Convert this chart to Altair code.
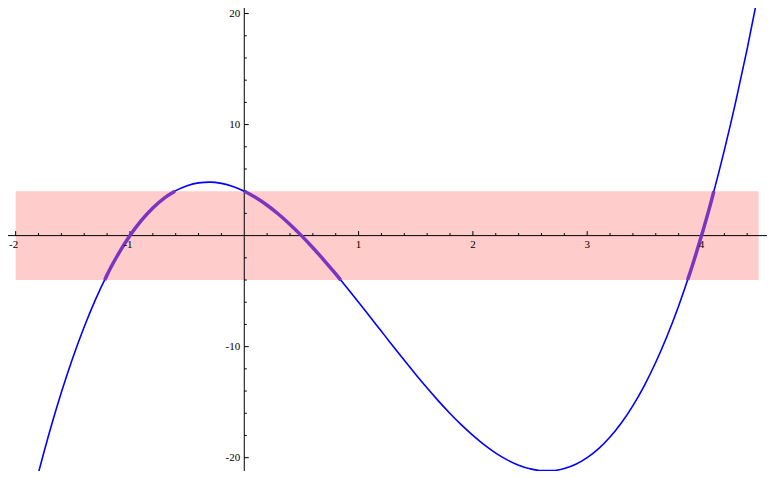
import altair as alt
import pandas as pd

# Curve samples
curve_x = [-1.9, -1.8, -1.7, -1.6, -1.5, -1.4, -1.3, -1.2, -1.1, -1.0, -0.9, -0.8, -0.7, -0.6,
           -0.5, -0.4, -0.3, -0.2, -0.1, 0.0, 0.1, 0.2, 0.3, 0.4, 0.5, 0.6, 0.7, 0.8, 0.9, 1.0,
           1.1, 1.2, 1.3, 1.4, 1.5, 1.6, 1.7, 1.8, 1.9, 2.0, 2.1, 2.2, 2.3, 2.4, 2.5, 2.6, 2.7,
           2.8, 2.9, 3.0, 3.1, 3.2, 3.3, 3.4, 3.5, 3.6, 3.7, 3.8, 3.9, 4.0, 4.1, 4.2, 4.3, 4.4,
           4.5, 4.6]
curve_y = [-25.488, -21.344, -17.556, -14.112, -11.0, -8.208, -5.724, -3.536, -1.632, 0.0,
           1.372, 2.496, 3.384, 4.048, 4.5, 4.752, 4.816, 4.704, 4.428, 4.0, 3.432, 2.736,
           1.924, 1.008, 0.0, -1.088, -2.244, -3.456, -4.712, -6.0, -7.308, -8.624, -9.936,
           -11.232, -12.5, -13.728, -14.904, -16.016, -17.052, -18.0, -18.848, -19.584,
           -20.196, -20.672, -21.0, -21.168, -21.164, -20.976, -20.592, -20.0, -19.188,
           -18.144, -16.856, -15.312, -13.5, -11.408, -9.024, -6.336, -3.332, 0.0, 3.672,
           7.696, 12.084, 16.848, 22.0, 27.552]

# Highlighted (purple) pieces inside the band
hl_x = [-1.221, -1.2, -1.1, -1.0, -0.9, -0.8, -0.7, -0.607,
        0.0, 0.1, 0.2, 0.3, 0.4, 0.5, 0.6, 0.7, 0.8, 0.843,
        3.878, 3.9, 4.0, 4.1, 4.108]
hl_y = [-4.0, -3.536, -1.632, 0.0, 1.372, 2.496, 3.384, 4.0,
        4.0, 3.432, 2.736, 1.924, 1.008, 0.0, -1.088, -2.244, -3.456, -4.0,
        -4.0, -3.332, 0.0, 3.672, 4.0]
hl_seg = ["a"] * 8 + ["b"] * 10 + ["c"] * 5

# Band
band_x = [-2.0]
band_x2 = [4.5]
band_y = [-4.0]
band_y2 = [4.0]

# Axis ticks and labels
x_major = [-2, -1, 1, 2, 3, 4]
x_minor = [-1.8, -1.6, -1.4, -1.2, -0.8, -0.6, -0.4, -0.2, 0.2, 0.4, 0.6, 0.8, 1.2, 1.4,
           1.6, 1.8, 2.2, 2.4, 2.6, 2.8, 3.2, 3.4, 3.6, 3.8, 4.2, 4.4]
y_major = [-20, -10, 10, 20]
y_minor = [-18, -16, -14, -12, -8, -6, -4, -2, 2, 4, 6, 8, 12, 14, 16, 18]
x_labels = ["-2", "-1", "1", "2", "3", "4"]
y_labels = ["-20", "-10", "10", "20"]

XDOM = [-2.067, 4.573]
YDOM = [-21.2, 20.5]

xs = alt.Scale(domain=XDOM, nice=False, zero=False)
ys = alt.Scale(domain=YDOM, nice=False, zero=False)

curve_df = pd.DataFrame({"x": curve_x, "y": curve_y})
hl_df = pd.DataFrame({"x": hl_x, "y": hl_y, "seg": hl_seg})
band_df = pd.DataFrame({"x": band_x, "x2": band_x2, "y": band_y, "y2": band_y2})
xaxis_df = pd.DataFrame({"x": [XDOM[0]], "x2": [XDOM[1]], "y": [0.0]})
yaxis_df = pd.DataFrame({"y": [YDOM[0]], "y2": [YDOM[1]], "x": [0.0]})
xmaj_df = pd.DataFrame({"x": x_major, "y": [0.0] * len(x_major), "lab": x_labels,
                        "neg": [v < 0 for v in x_major]})
xmin_df = pd.DataFrame({"x": x_minor, "y": [0.0] * len(x_minor)})
ymaj_df = pd.DataFrame({"y": y_major, "x": [0.0] * len(y_major), "lab": y_labels})
ymin_df = pd.DataFrame({"y": y_minor, "x": [0.0] * len(y_minor)})

X = lambda f="x": alt.X(f"{f}:Q", scale=xs, axis=None)
Y = lambda f="y": alt.Y(f"{f}:Q", scale=ys, axis=None)

band = alt.Chart(band_df).mark_rect(color="#ffcccc", opacity=1).encode(
    x=X(), x2="x2", y=Y(), y2="y2")

xaxis = alt.Chart(xaxis_df).mark_rule(color="black", strokeWidth=1).encode(
    x=X(), x2="x2", y=Y())
yaxis = alt.Chart(yaxis_df).mark_rule(color="black", strokeWidth=1).encode(
    y=Y(), y2="y2", x=X())

xmaj = alt.Chart(xmaj_df).mark_rule(color="black", yOffset=-4.5, y2Offset=0).encode(
    x=X(), y=Y(), y2="y")
xmin = alt.Chart(xmin_df).mark_rule(color="black", yOffset=-2.5, y2Offset=0).encode(
    x=X(), y=Y(), y2="y")
ymaj = alt.Chart(ymaj_df).mark_rule(color="black", xOffset=0, x2Offset=4.5).encode(
    y=Y(), x=X(), x2="x")
ymin = alt.Chart(ymin_df).mark_rule(color="black", xOffset=0, x2Offset=2.5).encode(
    y=Y(), x=X(), x2="x")

curve = alt.Chart(curve_df).mark_line(color="#0000ff", strokeWidth=1.6, clip=True,
                                      interpolate="monotone").encode(
    x=X(), y=Y(), order="x:Q")
hl = alt.Chart(hl_df).mark_line(color="#7a36c0", strokeWidth=3.5, clip=True,
                                interpolate="monotone").encode(
    x=X(), y=Y(), detail="seg:N", order="x:Q")

font = "Liberation Serif"
xlab_neg = alt.Chart(xmaj_df[xmaj_df.neg]).mark_text(
    font=font, fontSize=11, dy=9, dx=-2, align="center", baseline="middle", color="black"
).encode(x=X(), y=Y(), text="lab:N")
xlab_pos = alt.Chart(xmaj_df[~xmaj_df.neg]).mark_text(
    font=font, fontSize=11, dy=9, align="center", baseline="middle", color="black"
).encode(x=X(), y=Y(), text="lab:N")
ylab = alt.Chart(ymaj_df).mark_text(
    font=font, fontSize=11, dx=-4, align="right", baseline="middle", color="black"
).encode(x=X(), y=Y(), text="lab:N")

chart = alt.layer(band, xaxis, yaxis, xmaj, xmin, ymaj, ymin, curve, hl,
                  xlab_neg, xlab_pos, ylab).properties(
    width=759, height=463, padding=0, autosize=alt.AutoSizeParams(type="none")
).configure_view(stroke=None)

chart.save("out.html", embed_options={"renderer": "svg", "actions": False})
